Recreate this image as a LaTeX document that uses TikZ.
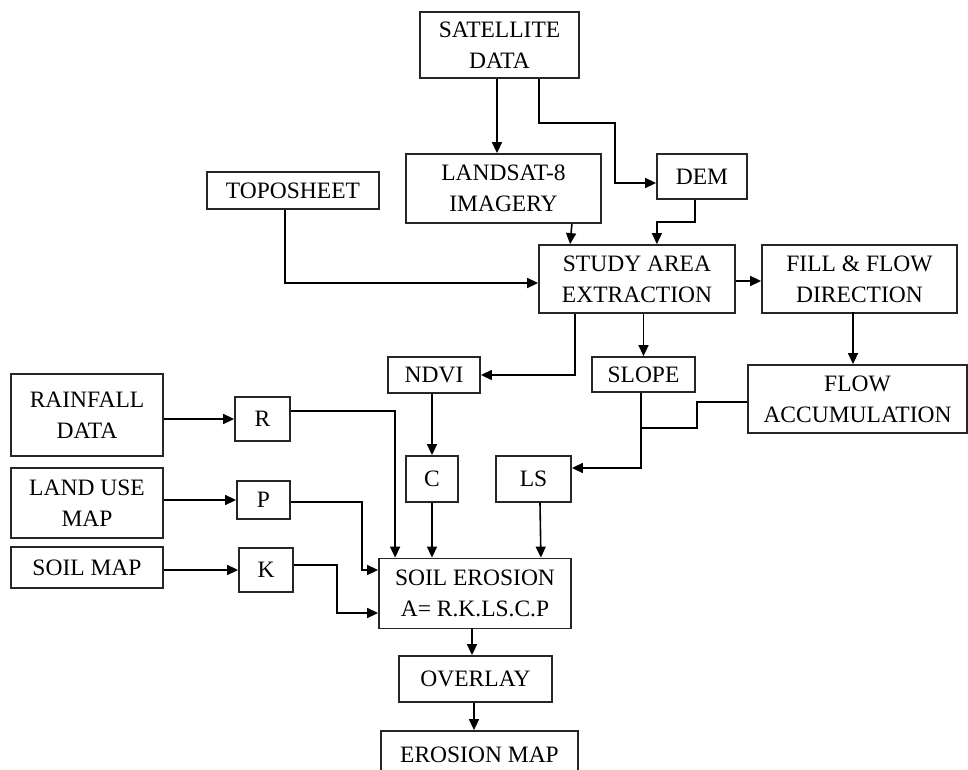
\documentclass[tikz,border=0pt]{standalone}
\usepackage{fontspec}
\setmainfont{Liberation Serif}
\usetikzlibrary{arrows.meta,calc}
\begin{document}
\begin{tikzpicture}[x=1pt,y=-1pt,>={Triangle[length=11pt,width=10pt]}]
            \tikzstyle{block}=[rectangle,draw=black!85,line width=1.8pt,inner sep=0pt,align=center,font=\fontsize{23.5}{31}\selectfont]
            \tikzstyle{edge}=[draw,line width=1.6pt,->]
            \tikzstyle{line}=[draw,line width=1.6pt]
            \clip (0,0) rectangle (968,770);
            \begin{scope}
               % data sources
               \node [block,minimum width=159pt,minimum height=66pt] (sat) at (499.5,45) {SATELLITE\\DATA};
               \node [block,minimum width=195pt,minimum height=69pt] (landsat) at (503.5,188.5) {LANDSAT-8\\IMAGERY};
               \node [block,minimum width=90pt,minimum height=45pt] (dem) at (702,176.5) {DEM};
               \node [block,minimum width=172pt,minimum height=37pt] (topo) at (293,190.5) {TOPOSHEET};
               \node [block,minimum width=196pt,minimum height=68pt] (study) at (637,279) {STUDY AREA\\EXTRACTION};
               \node [block,minimum width=195pt,minimum height=68pt] (fill) at (859.5,279) {FILL \& FLOW\\DIRECTION};
               \node [block,minimum width=92pt,minimum height=36pt] (ndvi) at (434,375) {NDVI};
               \node [block,minimum width=103pt,minimum height=35pt] (slope) at (643.5,374.5) {SLOPE};
               \node [block,minimum width=219pt,minimum height=68pt] (flowacc) at (857.5,399) {FLOW\\ACCUMULATION};
               \node [block,minimum width=152pt,minimum height=82pt] (rain) at (87,415) {RAINFALL\\DATA};
               \node [block,minimum width=152pt,minimum height=70pt] (landuse) at (87,503) {LAND USE\\MAP};
               \node [block,minimum width=152pt,minimum height=41pt] (soilmap) at (87,567.5) {SOIL MAP};
               % factors
               \node [block,minimum width=55pt,minimum height=44pt] (r) at (262.5,419) {R};
               \node [block,minimum width=53pt,minimum height=38pt] (p) at (263.5,500) {P};
               \node [block,minimum width=54pt,minimum height=44pt] (k) at (266,570) {K};
               \node [block,minimum width=52pt,minimum height=46pt] (c) at (432,479) {C};
               \node [block,minimum width=75pt,minimum height=46pt] (ls) at (533.5,479) {LS};
               % result
               \node [block,minimum width=192pt,minimum height=70pt] (soil) at (475,593.5) {SOIL EROSION\\A= R.K.LS.C.P};
               \node [block,minimum width=153pt,minimum height=46pt] (overlay) at (475.5,679) {OVERLAY};
               \node [block,minimum width=197pt,minimum height=60pt,text depth=12pt] (emap) at (479.5,761) {EROSION MAP};
               % connectors
               \path[edge] ($(sat.south)+(-2.5,0)$) -- ($(landsat.north)+(-6.5,0)$);
               \path[edge] ($(sat.south east)+(-41,0)$) -- ++(0,44) -| ($(dem.west)+(-41,6.5)$) -- ($(dem.west)+(0,6.5)$);
               \path[edge] ($(landsat.south east)+(-30,0)$) -- ($(study.north west)+(32,0)$);
               \path[edge] ($(dem.south)+(-7,0)$) -- ++(0,22) -| ($(study.north east)+(-79,0)$);
               \path[edge] ($(topo.south)+(-8,0)$) |- ($(study.west)+(0,4)$);
               \path[edge] ($(study.east)+(0,2)$) -- ($(fill.west)+(0,2)$);
               \path[edge] ($(study.south west)+(37,0)$) |- (ndvi.east);
               \path[edge] (slope.north |- study.south) -- (slope.north);
               \path[edge] ($(flowacc.north)+(-4.5,-52)$) -- ($(flowacc.north)+(-4.5,0)$);
               \path[edge] ($(slope.south)+(-2.5,0)$) |- ($(ls.east)+(0,-11)$);
               \path[line] ($(flowacc.west)+(0,3)$) -| ($(slope.south east)+(1,35)$) -- ($(slope.south)+(-2.5,35)$);
               \path[edge] (rain.east |- r.west) -- (r.west);
               \path[edge] (landuse.east |- p.west) -- (p.west);
               \path[edge] (soilmap.east |- k.west) -- (k.west);
               \path[edge] (c.north |- ndvi.south) -- (c.north);
               \path[edge] ($(r.east)+(0,-8)$) -| ($(soil.north west)+(17,0)$);
               \path[edge] (c.south) -- (c.south |- soil.north);
               \path[edge] ($(ls.south)+(6.5,0)$) -- ($(soil.north east)+(-31,0)$);
               \path[edge] ($(p.east)+(0,2)$) -| ($(soil.west)+(-16,-23.5)$) -- ($(soil.west)+(0,-23.5)$);
               \path[edge] ($(k.east)+(0,-5)$) -| ($(soil.west)+(-41,19.5)$) -- ($(soil.west)+(0,19.5)$);
               \path[edge] ($(soil.south)+(-3,0)$) -- ($(overlay.north)+(-3.5,0)$);
               \path[edge] ($(overlay.south)+(-1.5,0)$) -- ($(emap.north)+(-5.5,0)$);
            \end{scope}
        \end{tikzpicture}
\end{document}
